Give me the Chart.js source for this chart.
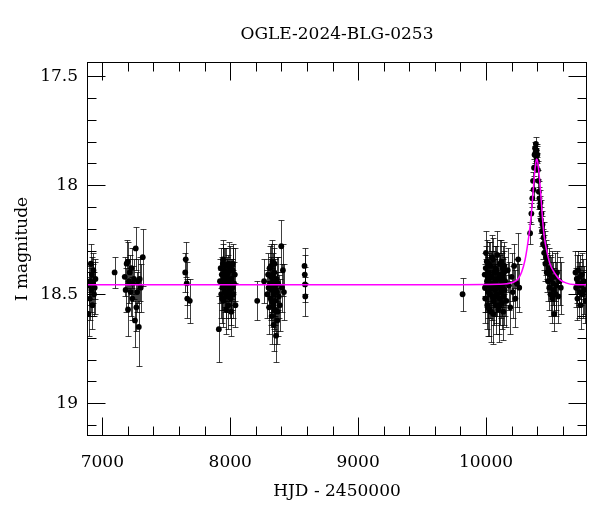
<!DOCTYPE html>
<html>
<head>
<meta charset="utf-8">
<script src="https://cdn.jsdelivr.net/npm/chart.js@4.4.1/dist/chart.umd.min.js"></script>
<style>
  html, body { margin: 0; padding: 0; background: #fff; }
</style>
</head>
<body>
<canvas id="lc" width="600" height="512"></canvas>
<script>
// OGLE I-band light curve
const eventName = 'OGLE-2024-BLG-0253';

const hjd = [
  6892, 6897, 6902, 6906, 6910, 6914, 6918, 6922, 6926, 6930, 6935, 6940, 6946,
  7096, 7175, 7182, 7190, 7198, 7201, 7208, 7214, 7222, 7228, 7235, 7240, 7248, 7255, 7261, 7266, 7272, 7279, 7285, 7292, 7300, 7316,
  7648, 7652, 7660, 7664, 7684,
  7911, 7920, 7925, 7930, 7934, 7938, 7942, 7946, 7950, 7954,
  7958, 7962, 7966, 7970, 7974, 7978, 7982, 7985, 7990, 7994,
  7998, 8003, 8008, 8012, 8016, 8020, 8025, 8030, 8036, 8041,
  7936, 7944, 7952, 7960, 7968, 7976, 7988, 7996, 8006, 8018,
  8211, 8265, 8290, 8296, 8300, 8304, 8308, 8312, 8316, 8320,
  8324, 8327, 8330, 8333, 8336, 8339, 8342, 8345, 8348, 8351,
  8354, 8358, 8362, 8366, 8370, 8375, 8380, 8387, 8399, 8405,
  8412, 8420,
  8318, 8322, 8328, 8334, 8340, 8346, 8352, 8368,
  8581, 8583, 8585, 8587,
  9817,
  9990, 9994, 9998, 10002, 10006, 10010, 10014, 10018, 10022, 10026,
  10030, 10034, 10038, 10042, 10046, 10050, 10054, 10058, 10062, 10066,
  10070, 10074, 10078, 10082, 10086, 10090, 10094, 10098, 10102, 10106,
  10110, 10114, 10118, 10122, 10126, 10130, 10134, 10138, 10142, 10146,
  10150, 10160, 10170, 10180, 10190, 10200, 10210, 10220, 10230, 10240,
  10252, 10260,
  9992, 10000, 10008, 10016, 10024, 10032, 10040, 10048, 10056, 10064,
  10072, 10080, 10088, 10096, 10104, 10112, 10120, 10128, 10136, 10144,
  10345, 10355, 10362, 10368, 10372, 10376, 10380, 10384, 10388, 10390,
  10393, 10396, 10399, 10402, 10406, 10410, 10414, 10418, 10422, 10426,
  10430, 10434, 10438, 10442, 10446, 10450, 10455, 10460, 10465, 10470,
  10475, 10480, 10485, 10490, 10495, 10500, 10505, 10510, 10515, 10520,
  10525, 10530, 10534, 10540, 10545, 10550, 10556, 10565, 10575, 10585,
  10700, 10705, 10710, 10715, 10720, 10725, 10730, 10735, 10740, 10745, 10750, 10756, 10762, 10770, 10778
];

const mag = [
  18.59, 18.46, 18.52, 18.44, 18.36, 18.48, 18.41, 18.55, 18.45, 18.39, 18.50, 18.47, 18.43,
  18.40, 18.42, 18.48, 18.36, 18.35, 18.57, 18.44, 18.40, 18.49, 18.38, 18.52, 18.45, 18.43, 18.62, 18.29, 18.56, 18.49, 18.44, 18.65, 18.43, 18.47, 18.33,
  18.40, 18.34, 18.45, 18.52, 18.53,
  18.66, 18.44, 18.38, 18.50, 18.41, 18.47, 18.36, 18.53, 18.43, 18.39,
  18.49, 18.45, 18.37, 18.51, 18.42, 18.46, 18.40, 18.55, 18.44, 18.48,
  18.38, 18.52, 18.58, 18.43, 18.47, 18.36, 18.50, 18.45, 18.41, 18.55,
  18.52, 18.34, 18.47, 18.41, 18.57, 18.44, 18.36, 18.50, 18.46, 18.39,
  18.53, 18.44, 18.50, 18.41, 18.47, 18.56, 18.38, 18.45, 18.52, 18.42,
  18.60, 18.48, 18.35, 18.54, 18.44, 18.64, 18.50, 18.40, 18.57, 18.46,
  18.53, 18.69, 18.43, 18.49, 18.58, 18.45, 18.51, 18.55, 18.28, 18.47,
  18.39, 18.49,
  18.37, 18.53, 18.46, 18.41, 18.55, 18.36, 18.48, 18.62,
  18.37, 18.41, 18.455, 18.51,
  18.50,
  18.41, 18.52, 18.38, 18.46, 18.35, 18.55, 18.43, 18.49, 18.40, 18.57,
  18.45, 18.37, 18.58, 18.47, 18.42, 18.51, 18.34, 18.46, 18.53, 18.40,
  18.48, 18.44, 18.55, 18.39, 18.50, 18.43, 18.47, 18.57, 18.41, 18.52,
  18.36, 18.46, 18.49, 18.42, 18.54, 18.38, 18.45, 18.51, 18.40, 18.48,
  18.44, 18.53, 18.39, 18.46, 18.56, 18.42, 18.49, 18.37, 18.52, 18.45,
  18.34, 18.47,
  18.47, 18.31, 18.44, 18.56, 18.36, 18.50, 18.42, 18.33, 18.59, 18.45,
  18.38, 18.51, 18.32, 18.46, 18.55, 18.43, 18.35, 18.48, 18.58, 18.37,
  18.22, 18.13, 18.06, 17.98, 18.02, 17.92, 17.86, 17.83, 17.85, 17.81,
  17.87, 17.84, 17.89, 17.86, 17.93, 17.98, 18.03, 18.06, 18.10, 18.08,
  18.16, 18.13, 18.21, 18.18, 18.27, 18.24, 18.31, 18.28, 18.36, 18.33,
  18.40, 18.35, 18.44, 18.38, 18.47, 18.41, 18.50, 18.43, 18.39, 18.52,
  18.45, 18.48, 18.59, 18.42, 18.50, 18.46, 18.40, 18.51, 18.44, 18.47,
  18.40, 18.47, 18.43, 18.52, 18.39, 18.45, 18.49, 18.42, 18.55, 18.46, 18.41, 18.50, 18.44, 18.48, 18.53
];

const magErr = [
  0.10, 0.09, 0.10, 0.08, 0.09, 0.10, 0.08, 0.11, 0.09, 0.08, 0.10, 0.12, 0.09,
  0.07, 0.09, 0.10, 0.11, 0.09, 0.12, 0.10, 0.08, 0.11, 0.09, 0.10, 0.08, 0.09, 0.12, 0.10, 0.11, 0.09, 0.10, 0.18, 0.10, 0.11, 0.13,
  0.09, 0.08, 0.10, 0.09, 0.10,
  0.15, 0.10, 0.09, 0.11, 0.08, 0.10, 0.09, 0.12, 0.08, 0.10,
  0.09, 0.11, 0.08, 0.10, 0.09, 0.12, 0.08, 0.11, 0.09, 0.10,
  0.10, 0.12, 0.11, 0.09, 0.10, 0.09, 0.11, 0.10, 0.12, 0.10,
  0.11, 0.09, 0.10, 0.12, 0.11, 0.09, 0.10, 0.11, 0.12, 0.10,
  0.09, 0.10, 0.11, 0.10, 0.09, 0.12, 0.10, 0.11, 0.10, 0.09,
  0.13, 0.10, 0.10, 0.11, 0.09, 0.12, 0.10, 0.11, 0.10, 0.12,
  0.11, 0.12, 0.10, 0.09, 0.11, 0.12, 0.10, 0.12, 0.12, 0.11,
  0.12, 0.13,
  0.10, 0.11, 0.12, 0.10, 0.11, 0.09, 0.12, 0.11,
  0.08, 0.09, 0.08, 0.09,
  0.075,
  0.10, 0.11, 0.10, 0.12, 0.10, 0.11, 0.10, 0.12, 0.09, 0.12,
  0.10, 0.11, 0.14, 0.10, 0.12, 0.11, 0.10, 0.12, 0.11, 0.10,
  0.12, 0.10, 0.13, 0.11, 0.10, 0.12, 0.11, 0.15, 0.10, 0.12,
  0.11, 0.10, 0.12, 0.11, 0.12, 0.10, 0.11, 0.13, 0.10, 0.12,
  0.11, 0.12, 0.10, 0.11, 0.12, 0.11, 0.12, 0.10, 0.13, 0.11,
  0.12, 0.11,
  0.11, 0.10, 0.12, 0.13, 0.10, 0.11, 0.12, 0.10, 0.14, 0.11,
  0.10, 0.12, 0.11, 0.10, 0.13, 0.11, 0.10, 0.12, 0.13, 0.11,
  0.05, 0.05, 0.04, 0.04, 0.05, 0.04, 0.04, 0.03, 0.04, 0.03,
  0.04, 0.03, 0.04, 0.04, 0.04, 0.05, 0.05, 0.05, 0.05, 0.06,
  0.06, 0.06, 0.07, 0.06, 0.07, 0.07, 0.08, 0.07, 0.08, 0.08,
  0.09, 0.08, 0.09, 0.09, 0.10, 0.09, 0.10, 0.10, 0.09, 0.11,
  0.10, 0.10, 0.08, 0.11, 0.10, 0.11, 0.10, 0.12, 0.11, 0.12,
  0.10, 0.09, 0.11, 0.10, 0.09, 0.10, 0.12, 0.10, 0.11, 0.09, 0.10, 0.11, 0.10, 0.11, 0.10
];

// model curve
const modelHjd = [6880, 9800, 10000, 10100, 10161, 10213, 10252, 10279, 10305, 10323, 10344, 10362, 10378, 10391,
  10396, 10404, 10417, 10430, 10443, 10456, 10474, 10500, 10540, 10579, 10631, 10683, 10790];
const modelMag = [18.456, 18.456, 18.455, 18.454, 18.452, 18.445, 18.429, 18.398, 18.344, 18.283, 18.191, 18.083, 17.960, 17.891,
  17.880, 17.891, 17.960, 18.052, 18.160, 18.237, 18.298, 18.360, 18.406, 18.434, 18.449, 18.455, 18.456];

const xTicks = [7000, 8000, 9000, 10000];
const yTicks = [17.5, 18, 18.5, 19];
const xMinorStep = 200;
const yMinorStep = 0.1;

const serif = 'DejaVu Serif';

const errorBars = {
  id: 'errorBars',
  beforeDatasetsDraw(chart) {
    const { ctx, chartArea: a, scales: { x, y } } = chart;
    ctx.save();
    ctx.beginPath();
    ctx.rect(a.left, a.top, a.right - a.left, a.bottom - a.top);
    ctx.clip();
    ctx.strokeStyle = 'rgba(0,0,0,0.75)';
    ctx.lineWidth = 1;
    hjd.forEach((t, i) => {
      const px = Math.round(x.getPixelForValue(t)) + 0.5;
      const y1 = Math.round(y.getPixelForValue(mag[i] - magErr[i])) + 0.5;
      const y2 = Math.round(y.getPixelForValue(mag[i] + magErr[i])) + 0.5;
      ctx.beginPath();
      ctx.moveTo(px, y1); ctx.lineTo(px, y2);
      ctx.moveTo(px - 3, y1); ctx.lineTo(px + 3, y1);
      ctx.moveTo(px - 3, y2); ctx.lineTo(px + 3, y2);
      ctx.stroke();
    });
    ctx.restore();
  }
};

// box frame with inward major/minor ticks on all four sides
const frameTicks = {
  id: 'frameTicks',
  afterDraw(chart) {
    const { ctx, chartArea: a, scales: { x, y } } = chart;
    const L = Math.round(a.left) + 0.5, R = Math.round(a.right) - 0.5;
    const T = Math.round(a.top) + 0.5, B = Math.round(a.bottom) - 0.5;
    ctx.save();
    ctx.strokeStyle = '#000';
    ctx.lineWidth = 1;
    ctx.strokeRect(L, T, R - L, B - T);
    ctx.beginPath();
    for (let k = Math.ceil(x.min / xMinorStep); k * xMinorStep <= x.max; k++) {
      const v = k * xMinorStep;
      const len = v % 1000 === 0 ? 18 : 9;
      const px = Math.round(x.getPixelForValue(v)) + 0.5;
      ctx.moveTo(px, B); ctx.lineTo(px, B - len);
      ctx.moveTo(px, T); ctx.lineTo(px, T + len);
    }
    for (let k = Math.ceil(y.min / yMinorStep - 1e-6); k * yMinorStep <= y.max + 1e-6; k++) {
      const v = k * yMinorStep;
      const len = k % 5 === 0 ? 18 : 9;
      const py = Math.round(y.getPixelForValue(v)) + 0.5;
      ctx.moveTo(L, py); ctx.lineTo(L + len, py);
      ctx.moveTo(R, py); ctx.lineTo(R - len, py);
    }
    ctx.stroke();
    ctx.restore();
  }
};

new Chart(document.getElementById('lc'), {
  data: {
    datasets: [
      {
        type: 'line',
        label: 'model',
        data: modelHjd.map((t, i) => ({ x: t, y: modelMag[i] })),
        borderColor: '#ff00ff',
        borderWidth: 1.5,
        pointRadius: 0,
        cubicInterpolationMode: 'monotone'
      },
      {
        type: 'scatter',
        label: 'OGLE I',
        data: hjd.map((t, i) => ({ x: t, y: mag[i] })),
        pointRadius: 2.9,
        backgroundColor: '#000',
        borderWidth: 0
      }
    ]
  },
  options: {
    responsive: false,
    animation: false,
    layout: { padding: { left: 0, right: 13, top: 0, bottom: 0 } },
    plugins: {
      legend: { display: false },
      tooltip: { enabled: false },
      title: {
        display: true,
        text: eventName,
        fullSize: false,
        color: '#000',
        font: { family: serif, size: 17, weight: 'normal' },
        padding: { top: 24, bottom: 17.6 }
      }
    },
    scales: {
      x: {
        type: 'linear',
        min: 6880,
        max: 10790,
        afterBuildTicks: s => { s.ticks = xTicks.map(v => ({ value: v })); },
        afterFit: s => { s.height = 76; },
        grid: { display: false, drawTicks: false },
        border: { display: false },
        ticks: {
          callback: v => String(v),
          color: '#000',
          font: { family: serif, size: 17 },
          padding: 16,
          maxRotation: 0,
          autoSkip: false
        },
        title: {
          display: true,
          text: 'HJD - 2450000',
          color: '#000',
          font: { family: serif, size: 17 },
          padding: { top: 0, bottom: 10 }
        }
      },
      y: {
        type: 'linear',
        reverse: true,
        min: 17.435,
        max: 19.15,
        afterBuildTicks: s => { s.ticks = yTicks.map(v => ({ value: v })); },
        afterFit: s => { s.width = 87; },
        grid: { display: false, drawTicks: false },
        border: { display: false },
        ticks: {
          callback: v => String(v),
          color: '#000',
          font: { family: serif, size: 17 },
          padding: 9,
          autoSkip: false
        },
        title: {
          display: true,
          text: 'I magnitude',
          color: '#000',
          font: { family: serif, size: 17 },
          padding: { top: 12, bottom: 0 }
        }
      }
    }
  },
  plugins: [errorBars, frameTicks]
});
</script>
</body>
</html>
